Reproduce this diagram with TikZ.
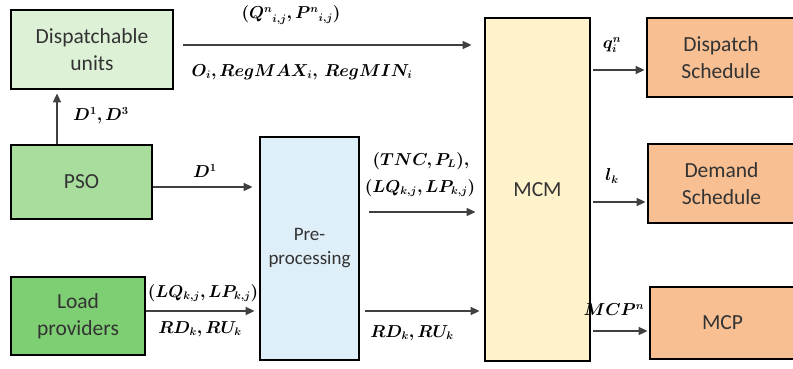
\documentclass[tikz,border=0pt]{standalone}
\usepackage{fontspec}
\usepackage{bm}
\setmainfont{Carlito}
\usetikzlibrary{arrows.meta}
\definecolor{duG}{HTML}{DDF1D6}
\definecolor{psoG}{HTML}{A8DD9E}
\definecolor{lpG}{HTML}{7ECF73}
\definecolor{preB}{HTML}{DEEFF9}
\definecolor{mcmY}{HTML}{FFF3CC}
\definecolor{outO}{HTML}{F7BF92}
\definecolor{arrC}{HTML}{404040}
\tikzset{
  blk/.style={draw=black, line width=2.8pt, align=center, inner sep=0pt,
    font=\fontsize{21.5}{27}\selectfont, text=black!80},
  arr/.style={draw=arrC, line width=1.6pt, -{Triangle[length=9pt,width=8pt]}},
  lbl/.style={font=\fontsize{16}{19}\selectfont, inner sep=0pt}
}
\begin{document}
\begin{tikzpicture}[x=1pt,y=-1pt]
\useasboundingbox (0,0) rectangle (793,369);
\node[blk, fill=duG, minimum width=162pt, minimum height=79pt] (du) at (92,49.5) {Dispatchable\\units};
\node[blk, fill=psoG, minimum width=141pt, minimum height=74pt] (pso) at (81.5,182) {PSO};
\node[blk, fill=lpG, minimum width=134pt, minimum height=78pt] (lp) at (78,316) {Load\\providers};
\node[blk, fill=preB, minimum width=99pt, minimum height=223pt, font=\fontsize{19}{24}\selectfont] (pre) at (309.5,248.5) {Pre-\\processing};
\node[blk, fill=mcmY, minimum width=105pt, minimum height=343pt] (mcm) at (537.5,189.5) {MCM};
\node[blk, fill=outO, minimum width=148pt, minimum height=79pt] (ds) at (721,57.5) {Dispatch\\Schedule};
\node[blk, fill=outO, minimum width=147pt, minimum height=79pt] (dem) at (721.5,183.5) {Demand\\Schedule};
\node[blk, fill=outO, minimum width=145pt, minimum height=72pt] (mcp) at (722.5,323) {MCP};

% connectors
\draw[arr] ([xshift=9pt]du.east |- 0,45) -- ([xshift=-12pt]mcm.west |- 0,45);
\draw[arr] (pso.north -| 57,0) -- ([yshift=-3pt]du.south -| 57,0);
\draw[arr] (pso.east |- 0,187) -- ([xshift=-6pt]pre.west |- 0,187);
\draw[arr] (lp.east |- 0,311) -- ([xshift=-4pt]pre.west |- 0,311);
\draw[arr] ([xshift=9pt]pre.east |- 0,212) -- ([xshift=-8pt]mcm.west |- 0,212);
\draw[arr] ([xshift=5pt]pre.east |- 0,311) -- ([xshift=-4pt]mcm.west |- 0,311);
\draw[arr] ([xshift=2pt]mcm.east |- 0,70) -- ([xshift=-1pt]ds.west |- 0,70);
\draw[arr] ([xshift=2pt]mcm.east |- 0,202) -- ([xshift=-1pt]dem.west |- 0,202);
\draw[arr] ([xshift=2pt]mcm.east |- 0,331) -- ([xshift=-1pt]mcp.west |- 0,331);

% labels
\node[lbl] (l1) at (291,15) {$\bm{({Q^{n}}_{i,j}, {P^{n}}_{i,j})}$};
\node[lbl] (l2) at (302,72) {$\bm{O_i, RegMAX_i,\ RegMIN_i}$};
\node[lbl] (l3) at (101,116) {$\bm{D^1,D^3}$};
\node[lbl] (l4) at (205,171) {$\bm{D^1}$};
\node[lbl] (l5) at (421,161) {$\bm{(TNC,P_L),}$};
\node[lbl] (l6) at (420,188) {$\bm{(LQ_{k,j},LP_{k,j})}$};
\node[lbl] (l7) at (203,293) {$\bm{(LQ_{k,j},LP_{k,j})}$};
\node[lbl] (l8) at (200,329) {$\bm{RD_k, RU_k}$};
\node[lbl] (l9) at (412,333) {$\bm{RD_k, RU_k}$};
\node[lbl] (l10) at (612,45) {$\bm{q^{n}_{i}}$};
\node[lbl] (l11) at (612,176) {$\bm{l_k}$};
\node[lbl] (l12) at (614,310) {$\bm{MCP^n}$};
\end{tikzpicture}
\end{document}
